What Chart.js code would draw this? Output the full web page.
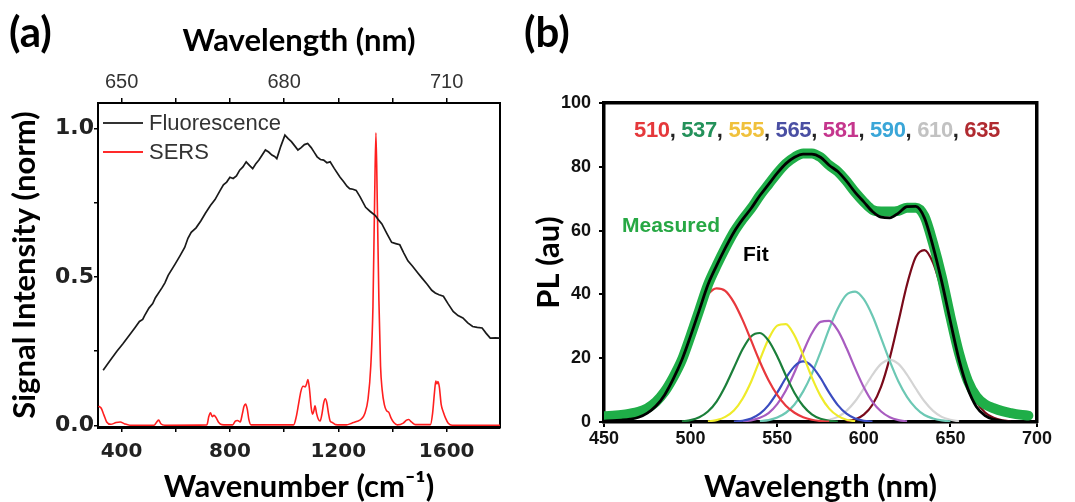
<!DOCTYPE html>
<html><head><meta charset="utf-8">
<script src="https://cdn.jsdelivr.net/npm/chart.js"></script>
<style>
html,body{margin:0;padding:0;background:#fff;}
body{width:1075px;height:502px;position:relative;overflow:hidden;}
canvas{position:absolute;top:0;}
#ca{left:0;}
#cb{left:530px;}
.t{position:absolute;white-space:nowrap;}
.pl{font-family:Lato,sans-serif;font-weight:bold;font-size:42px;line-height:50px;color:#000;}
.lgline{position:absolute;left:103px;width:40px;height:2px;}
.lgtxt{font-family:'Liberation Sans',Arial,sans-serif;font-size:22px;line-height:26px;color:#333;left:149px;}
.ann{font-family:'Liberation Sans',Arial,sans-serif;font-weight:bold;font-size:21px;line-height:24px;}
#peaks{font-size:22px;letter-spacing:-0.35px;}
</style></head><body>
<canvas id="ca" width="537" height="502"></canvas>
<canvas id="cb" width="545" height="502"></canvas>
<div class="t pl" style="left:9px;top:6px;">(a)</div>
<div class="t pl" style="left:524px;top:6px;">(b)</div>
<div class="lgline" style="top:122px;background:#333;"></div>
<div class="t lgtxt" style="top:110px;">Fluorescence</div>
<div class="lgline" style="top:151px;background:#ff2a2a;"></div>
<div class="t lgtxt" style="top:139px;">SERS</div>
<div class="t ann" id="peaks" style="left:634px;top:118px;"></div>
<div class="t ann" style="left:622px;top:213px;color:#27a844;">Measured</div>
<div class="t ann" style="left:743px;top:242px;color:#000;">Fit</div>
<script>
// ---------- Panel (a) data ----------
const wnMin = 313, wnMax = 1797;
const wnTicks = [400, 600, 800, 1000, 1200, 1400, 1600];
const wnLabels = [400, 800, 1200, 1600];
const wlTopTicks = [650, 660, 670, 680, 690, 700, 710];
const wlTopLabels = [650, 680, 710];
const yTicksA = [0, 0.25, 0.5, 0.75, 1.0];
const yLabelsA = [0, 0.5, 1.0];

const fluoNu = [332,355,382,405,430,450,466,478,485,501,515,525,549,560,572,597,615,633,645,657,675,693,710,728,745,764,776,788,800,812,824,836,848,860,872,884,895,907,919,931,943,955,965,973,988,1003,1015,1027,1040,1051,1063,1075,1087,1100,1112,1122,1134,1146,1158,1170,1185,1206,1220,1232,1242,1254,1266,1280,1301,1318,1337,1350,1361,1380,1397,1412,1427,1442,1457,1475,1493,1510,1528,1545,1558,1572,1588,1605,1624,1642,1660,1678,1696,1713,1731,1746,1761,1780,1797];
const fluoVal = [0.186,0.215,0.249,0.275,0.305,0.33,0.35,0.357,0.37,0.395,0.41,0.43,0.463,0.48,0.505,0.542,0.57,0.599,0.63,0.65,0.665,0.689,0.715,0.74,0.76,0.791,0.81,0.819,0.835,0.831,0.84,0.859,0.87,0.887,0.875,0.864,0.88,0.893,0.91,0.927,0.92,0.91,0.905,0.898,0.94,0.977,0.965,0.955,0.94,0.927,0.935,0.945,0.949,0.935,0.918,0.904,0.895,0.893,0.884,0.887,0.865,0.836,0.82,0.805,0.797,0.795,0.791,0.77,0.734,0.72,0.706,0.69,0.678,0.645,0.616,0.612,0.608,0.58,0.554,0.535,0.514,0.495,0.475,0.455,0.446,0.44,0.435,0.41,0.384,0.37,0.362,0.345,0.333,0.33,0.328,0.31,0.294,0.295,0.294];

const sersNu = [315,325,335,345,360,380,395,410,430,520,530,537,545,560,715,722,728,735,741,748,758,770,810,820,828,838,846,852,858,864,870,878,1035,1045,1053,1062,1070,1078,1083,1088,1094,1100,1105,1110,1114,1120,1126,1133,1140,1146,1152,1158,1164,1170,1178,1190,1230,1250,1270,1285,1298,1310,1320,1328,1334,1339,1344,1350,1356,1362,1370,1378,1386,1395,1405,1418,1440,1452,1460,1470,1485,1540,1548,1555,1560,1564,1568,1573,1580,1588,1596,1606,1620,1797];
const sersVal = [0.065,0.058,0.035,0.012,0.004,0.01,0.012,0.006,0.001,0.001,0.012,0.018,0.006,0.001,0.002,0.03,0.043,0.03,0.034,0.028,0.011,0.003,0.002,0.015,0.017,0.012,0.04,0.065,0.072,0.055,0.02,0.002,0.002,0.03,0.07,0.115,0.132,0.13,0.14,0.155,0.12,0.06,0.038,0.05,0.066,0.04,0.022,0.015,0.04,0.075,0.09,0.075,0.04,0.015,0.01,0.003,0.002,0.008,0.014,0.022,0.04,0.09,0.2,0.4,0.75,0.985,0.75,0.42,0.2,0.12,0.07,0.05,0.045,0.025,0.01,0.002,0.008,0.018,0.02,0.012,0.003,0.003,0.04,0.11,0.15,0.14,0.148,0.13,0.07,0.045,0.025,0.008,0.001,0.001];

// ---------- Panel (b) data ----------
const _ = null;
const wlB = [450,455,460,465,470,475,480,485,490,495,500,505,510,515,520,525,530,535,540,545,550,555,560,565,570,575,580,585,590,595,600,605,610,615,620,625,630,635,640,645,650,655,660,665,670,675,680,685,690,695,700];
const measuredB = [1.8,2,2.2,2.6,3.2,4.3,6.3,9.5,14,19.5,27,35,43,49,54.5,59.5,63.5,67,71,74.5,78,81,83,84.2,84.2,83,80.5,78.5,75.5,72,69,66.5,66,66,66.2,67.2,67.2,64.5,56,45.5,33,21.5,13,8,5.5,4.3,3.4,2.8,2.3,2,_];
const fitB = [0.3,0.4,0.6,0.9,1.5,2.8,5,8.5,13.5,19.5,27,35,43,49,54.5,59.5,63.5,67,71,74.5,78,81,83,84,84,83,80.5,78.5,75.5,72,69,66,64.2,64,65.5,67.5,67.6,64,55,44,31.5,19.5,10.5,4.8,2,0.8,0.3,0.1,0.1,_,_];
const c510 = [_,_,_,_,_,_,_,_,_,_,_,35.5,40,41.9,41.1,37.5,32,25.5,18.9,13.1,8.5,5.1,2.9,1.5,0.7,0.3,0.1,_,_,_,_,_,_,_,_,_,_,_,_,_,_,_,_,_,_,_,_,_,_,_,_];
const c537 = [_,_,_,_,_,_,_,_,_,0.2,0.6,1.5,3.3,6.4,11.2,17,22.8,26.9,27.9,25.5,20.6,14.6,9.1,5,2.4,1,0.4,0.1,_,_,_,_,_,_,_,_,_,_,_,_,_,_,_,_,_,_,_,_,_,_,_];
const c555 = [_,_,_,_,_,_,_,_,_,_,_,_,0.2,0.6,1.6,3.6,7.3,12.7,19.5,26,30.2,30.7,27.1,20.9,14,8.2,4.2,1.9,0.7,0.2,_,_,_,_,_,_,_,_,_,_,_,_,_,_,_,_,_,_,_,_,_];
const c565 = [_,_,_,_,_,_,_,_,_,_,_,_,_,_,_,0.1,0.4,1.1,2.6,5.3,9.2,13.8,17.5,19,17.5,13.8,9.2,5.3,2.6,1.1,0.4,0.1,_,_,_,_,_,_,_,_,_,_,_,_,_,_,_,_,_,_,_];
const c581 = [_,_,_,_,_,_,_,_,_,_,_,_,_,_,_,_,0.2,0.5,1.3,2.8,5.6,9.9,15.6,22,27.8,31.4,31.7,28.7,23.2,16.8,10.9,6.3,3.3,1.5,0.6,0.2,_,_,_,_,_,_,_,_,_,_,_,_,_,_,_];
const c590 = [_,_,_,_,_,_,_,_,_,_,_,_,_,_,_,_,_,_,0.3,0.6,1.4,2.9,5.5,9.6,15.1,21.9,29.2,35.6,39.9,40.9,38.5,33.3,26.3,19.1,12.7,7.8,4.4,2.2,1.1,0.5,0.2,_,_,_,_,_,_,_,_,_,_];
const c610 = [_,_,_,_,_,_,_,_,_,_,_,_,_,_,_,_,_,_,_,_,_,_,_,_,_,0.2,0.7,1.6,3.5,6.5,10.5,14.8,18.2,19.5,18.2,14.8,10.5,6.5,3.5,1.6,0.7,0.2,_,_,_,_,_,_,_,_,_];
const c635 = [_,_,_,_,_,_,_,_,_,_,_,_,_,_,_,_,_,_,_,_,_,_,_,_,_,_,_,_,0.3,0.8,2.3,5.4,11.1,20.1,31.5,43.2,51.7,53.9,49.9,41.2,30.6,20.3,12,6.4,3,1.3,0.5,0.2,_,_,_];
const peakLabels = ['510','537','555','565','581','590','610','635'];
const peakTextColors = ['#e5383b','#23915a','#f0c13c','#4a4fa3','#c5368d','#3aa6d8','#c2c2c2','#b02a30'];
const compSeries = [c510,c537,c555,c565,c581,c590,c610,c635];
const compLineColors = ['#e8383d','#1b7f3a','#efeb2a','#3b4cc0','#a85cc0','#6cc8b4','#d4d4d4','#7a0a1a'];
const xTicksB = [450,500,550,600,650,700];
const yTicksB = [0,20,40,60,80,100];

// ---------- helpers ----------
const pts = (xs, ys) => xs.map((x, i) => ({x, y: ys[i]}));
const tickGrid = (len, w) => ({display:true, drawOnChartArea:false, drawTicks:true, tickLength:len, color:'#000', tickColor:'#000', lineWidth:w, tickWidth:w});
const titleFont = {family:'Lato', size:31, weight:'bold', lineHeight:1};

document.getElementById('peaks').innerHTML = peakLabels.map((l, i) =>
  '<span style="color:' + peakTextColors[i] + '">' + l + '</span>').join('<span style="color:#222">, </span>');

// ---------- Chart (a) ----------
new Chart(document.getElementById('ca'), {
  type: 'line',
  data: {datasets: [
    {label:'Fluorescence', data: pts(fluoNu, fluoVal), borderColor:'#1a1a1a', borderWidth:1.7, pointRadius:0, tension:0, xAxisID:'x', yAxisID:'y'},
    {label:'SERS', data: pts(sersNu, sersVal), borderColor:'#ff1f1f', borderWidth:1.6, pointRadius:0, cubicInterpolationMode:'monotone', xAxisID:'x', yAxisID:'y'}
  ]},
  options: {
    responsive:false, animation:false, events:[],
    layout:{padding:0},
    plugins:{legend:{display:false}, tooltip:{enabled:false}},
    scales:{
      x:{type:'linear', position:'bottom', min:wnMin, max:wnMax,
        afterBuildTicks: s => { s.ticks = wnTicks.map(v => ({value:v})); },
        afterFit: s => { s.height = 75; },
        ticks:{callback: v => wnLabels.includes(v) ? String(v) : '', font:{family:'DejaVu Sans', size:20, weight:'bold'}, color:'#222', padding:8, autoSkip:false, maxRotation:0},
        grid: tickGrid(5, 1.5),
        border:{display:true, color:'#000', width:3},
        title:{display:true, text:'Wavenumber (cm⁻¹)', font:titleFont, color:'#000', padding:{top:0, bottom:0}}
      },
      xTop:{type:'linear', axis:'x', position:'top', min:650 + (wnMin - 400) / 20, max:650 + (wnMax - 400) / 20,
        afterBuildTicks: s => { s.ticks = wlTopTicks.map(v => ({value:v})); },
        afterFit: s => { s.height = 103; },
        ticks:{callback: v => wlTopLabels.includes(v) ? String(v) : '', font:{family:'Liberation Sans', size:20}, color:'#333', padding:4, autoSkip:false, maxRotation:0},
        grid: tickGrid(5, 1.5),
        border:{display:true, color:'#000', width:2},
        title:{display:true, text:'Wavelength (nm)', font:titleFont, color:'#000', padding:{top:25, bottom:0}}
      },
      y:{type:'linear', position:'left', min:-0.005, max:1.085,
        afterBuildTicks: s => { s.ticks = yTicksA.map(v => ({value:v})); },
        afterFit: s => { s.width = 98; },
        ticks:{callback: v => yLabelsA.includes(v) ? v.toFixed(1) : '', font:{family:'DejaVu Sans', size:22, weight:'bold'}, color:'#222', padding:0, autoSkip:false},
        grid: tickGrid(4, 1.5),
        border:{display:true, color:'#000', width:2},
        title:{display:true, text:'Signal Intensity (norm)', font:titleFont, color:'#000', padding:{top:9, bottom:0}}
      },
      yR:{type:'linear', axis:'y', position:'right', min:-0.005, max:1.085,
        afterFit: s => { s.width = 37; },
        ticks:{display:false}, grid:{display:false},
        border:{display:true, color:'#000', width:2}
      }
    }
  }
});

// ---------- Chart (b) ----------
const dsB = [
  {label:'Fit', data: pts(wlB, fitB), borderColor:'#000', borderWidth:2.8, pointRadius:0, cubicInterpolationMode:'monotone', order:0},
  {label:'Measured', data: pts(wlB, measuredB), borderColor:'#1fae48', borderWidth:10, pointRadius:0, cubicInterpolationMode:'monotone', order:1, borderCapStyle:'round'}
];
compSeries.forEach((arr, i) => dsB.push({label:peakLabels[i], data: pts(wlB, arr), borderColor:compLineColors[i], borderWidth:2.2, pointRadius:0, cubicInterpolationMode:'monotone', order:2 + i, spanGaps:false}));

new Chart(document.getElementById('cb'), {
  type: 'line',
  data: {datasets: dsB},
  options: {
    responsive:false, animation:false, events:[],
    layout:{padding:0},
    plugins:{legend:{display:false}, tooltip:{enabled:false}},
    scales:{
      x:{type:'linear', position:'bottom', min:450, max:700,
        afterBuildTicks: s => { s.ticks = xTicksB.map(v => ({value:v})); },
        afterFit: s => { s.height = 80; },
        ticks:{font:{family:'Liberation Sans', size:18, weight:'bold'}, color:'#111', padding:1, autoSkip:false, maxRotation:0},
        grid: tickGrid(5, 2),
        border:{display:true, color:'#000', width:3.5},
        title:{display:true, text:'Wavelength (nm)', font:titleFont, color:'#000', padding:{top:0, bottom:0}}
      },
      xTop:{type:'linear', axis:'x', position:'top', min:450, max:700,
        afterFit: s => { s.height = 103; },
        ticks:{display:false}, grid:{display:false},
        border:{display:true, color:'#000', width:3.5}
      },
      y:{type:'linear', position:'left', min:0, max:100,
        afterBuildTicks: s => { s.ticks = yTicksB.map(v => ({value:v})); },
        afterFit: s => { s.width = 74; },
        ticks:{font:{family:'Liberation Sans', size:18, weight:'bold'}, color:'#111', padding:8, autoSkip:false},
        grid: tickGrid(5, 2),
        border:{display:true, color:'#000', width:3.5},
        title:{display:true, text:'PL (au)', font:titleFont, color:'#000', padding:{top:3.5, bottom:0}}
      },
      yR:{type:'linear', axis:'y', position:'right', min:0, max:100,
        afterFit: s => { s.width = 38; },
        ticks:{display:false}, grid:{display:false},
        border:{display:true, color:'#000', width:3.5}
      }
    }
  }
});
</script>
</body></html>
